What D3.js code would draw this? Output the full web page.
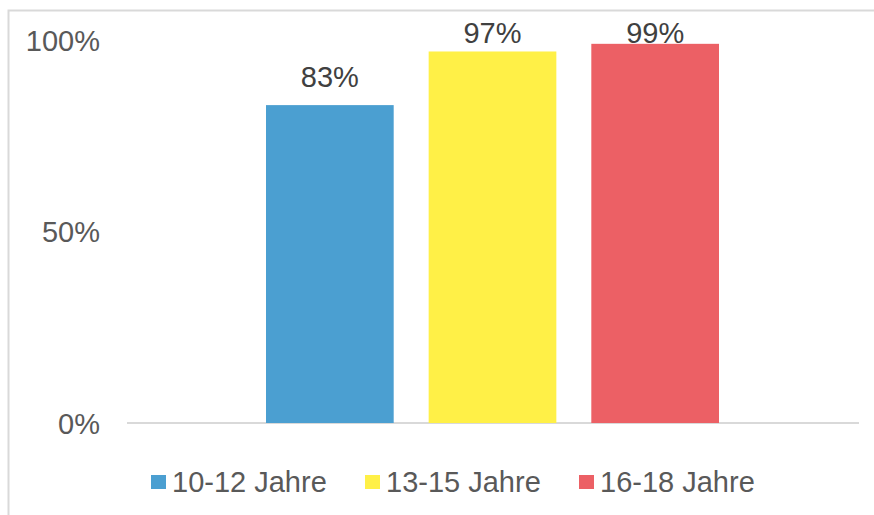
<!DOCTYPE html>
<meta charset="utf-8">
<style>
body { margin: 0; background: #fff; }
text { font-family: Arial, "Liberation Sans", sans-serif; }
</style>
<svg width="874" height="515"></svg>
<script src="https://d3js.org/d3.v7.min.js"></script>
<script>

var series = ["10-12 Jahre", "13-15 Jahre", "16-18 Jahre"];
var values = [0.83, 0.97, 0.99];
var colors = ["#4b9fd1", "#fff047", "#ec6065"];
var yTicks = [0, 0.5, 1];

var svg = d3.select("svg");

// chart frame (only left and top edges are visible in the window)
svg.append("rect")
    .attr("x", 8.5).attr("y", 10.5)
    .attr("width", 1000).attr("height", 1000)
    .attr("fill", "none")
    .attr("stroke", "#d9d9d9")
    .attr("stroke-width", 2);

var y = d3.scaleLinear().domain([0, 1]).range([423, 40]);

var x = d3.scaleBand()
    .domain(series)
    .range([266, 719])
    .paddingInner(0.215);

// y axis labels
var yAxis = svg.append("g")
    .attr("transform", "translate(100,0)")
    .call(d3.axisLeft(y).tickValues(yTicks).tickFormat(d3.format(".0%")).tickSize(0).tickPadding(0));
yAxis.select(".domain").remove();
yAxis.selectAll("text")
    .attr("font-size", 29)
    .attr("fill", "#595959")
    .attr("font-family", "Arial, 'Liberation Sans', sans-serif")
    .attr("dy", "0.35em");

// baseline
svg.append("line")
    .attr("x1", 127).attr("x2", 859)
    .attr("y1", y(0)).attr("y2", y(0))
    .attr("stroke", "#d9d9d9")
    .attr("stroke-width", 2);

svg.append("g").selectAll("rect")
    .data(values)
    .enter().append("rect")
      .attr("x", function(d, i) { return x(series[i]); })
      .attr("y", function(d) { return y(d); })
      .attr("width", x.bandwidth())
      .attr("height", function(d) { return y(0) - y(d); })
      .attr("fill", function(d, i) { return colors[i]; });

svg.append("g").selectAll("text")
    .data(values)
    .enter().append("text")
      .attr("x", function(d, i) { return x(series[i]) + x.bandwidth() / 2; })
      .attr("y", function(d) { return Math.max(y(d) - 18, 43); })
      .attr("text-anchor", "middle")
      .attr("font-size", 29)
      .attr("fill", "#404040")
      .text(function(d) { return d3.format(".0%")(d); });

// legend
var legendX = [151, 365, 579];
var legend = svg.append("g").selectAll("g")
    .data(series)
    .enter().append("g")
      .attr("transform", function(d, i) { return "translate(" + legendX[i] + ",0)"; });

legend.append("rect")
    .attr("x", 0).attr("y", 475)
    .attr("width", 15).attr("height", 14)
    .attr("fill", function(d, i) { return colors[i]; });

legend.append("text")
    .attr("x", 21).attr("y", 492)
    .attr("font-size", 29)
    .attr("fill", "#595959")
    .text(function(d) { return d; });

</script>
